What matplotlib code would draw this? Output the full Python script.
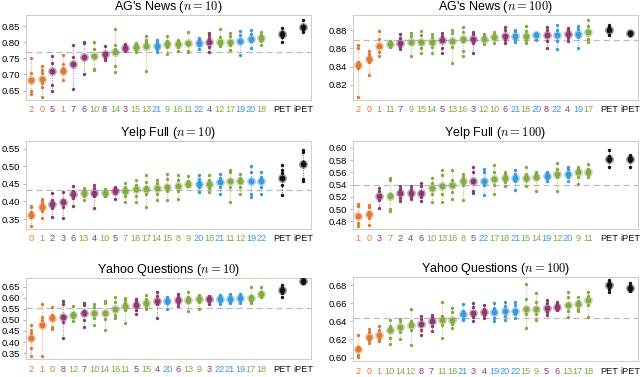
import matplotlib
matplotlib.use('Agg')
import matplotlib.pyplot as plt
import numpy as np

plt.rcParams['font.family'] = ['Liberation Sans', 'DejaVu Sans']
plt.rcParams['mathtext.fontset'] = 'cm'

ORANGE = '#e07a33'
PURPLE = '#8c3a6d'
GREEN = '#86a845'
BLUE = '#3a9ad9'
BLACK = '#111111'

# pattern groups per dataset: last index of orange, purple, green (rest blue)
ag_groups = [2, 8, 18]
yelp_groups = [1, 6, 18]
yahoo_groups = [2, 8, 18]

# ---------------- AG's News n=10 ----------------
ag10_labels = ['2', '0', '5', '1', '7', '6', '10', '8', '14', '3', '15', '13', '21', '9', '16', '11', '22', '4',
               '12', '17', '19', '20', '18', 'PET', 'iPET']
ag10_means = [0.683, 0.686, 0.711, 0.712, 0.732, 0.753, 0.758, 0.762, 0.769, 0.783, 0.786, 0.787, 0.787,
              0.793, 0.795, 0.796, 0.798, 0.799, 0.802, 0.802, 0.805, 0.809, 0.814, 0.824, 0.847]
ag10_runs = [
    [0.750, 0.705, 0.683, 0.648, 0.640], [0.727, 0.713, 0.705, 0.672, 0.660, 0.630],
    [0.756, 0.735, 0.711, 0.667, 0.649], [0.760, 0.733, 0.720, 0.682],
    [0.791, 0.753, 0.732, 0.655], [0.802, 0.797, 0.752, 0.700],
    [0.800, 0.778, 0.757, 0.718, 0.714], [0.787, 0.763, 0.750, 0.745],
    [0.840, 0.790, 0.778, 0.727, 0.709], [0.795, 0.789, 0.783, 0.772],
    [0.798, 0.793, 0.776, 0.770], [0.820, 0.807, 0.800, 0.787, 0.710],
    [0.806, 0.800, 0.780, 0.768], [0.818, 0.805, 0.785, 0.764],
    [0.807, 0.800, 0.785, 0.773], [0.832, 0.800, 0.774, 0.768],
    [0.814, 0.806, 0.790, 0.779], [0.828, 0.822, 0.812, 0.785, 0.769],
    [0.841, 0.815, 0.800, 0.788], [0.827, 0.818, 0.790, 0.776],
    [0.834, 0.823, 0.800, 0.760], [0.837, 0.825, 0.803, 0.783],
    [0.830, 0.822, 0.805, 0.790], [0.845, 0.830, 0.815, 0.802],
    [0.868, 0.850, 0.840, 0.832]]
ag10_base = 0.770

# ---------------- AG's News n=100 ----------------
ag100_labels = ['2', '0', '1', '11', '7', '9', '15', '14', '5', '13', '16', '3', '12', '10', '6', '21', '18',
                '20', '8', '22', '4', '19', '17', 'PET', 'iPET']
ag100_means = [0.842, 0.848, 0.863, 0.865, 0.866, 0.8675, 0.867, 0.8675, 0.869, 0.868, 0.870, 0.871, 0.871,
               0.873, 0.874, 0.874, 0.874, 0.875, 0.875, 0.875, 0.876, 0.876, 0.878, 0.881, 0.877]
ag100_runs = [
    [0.864, 0.860, 0.845, 0.838, 0.806], [0.857, 0.854, 0.850, 0.845, 0.831],
    [0.879, 0.871, 0.863, 0.856, 0.852], [0.868, 0.866, 0.864, 0.862],
    [0.876, 0.872, 0.866, 0.862, 0.859], [0.877, 0.874, 0.866, 0.852],
    [0.879, 0.875, 0.868, 0.860, 0.855], [0.876, 0.873, 0.866, 0.862, 0.855],
    [0.877, 0.874, 0.868, 0.860, 0.855], [0.881, 0.877, 0.868, 0.862, 0.844],
    [0.884, 0.878, 0.868, 0.857, 0.852], [0.878, 0.876, 0.871, 0.866, 0.855],
    [0.876, 0.874, 0.870, 0.865], [0.878, 0.875, 0.872, 0.866],
    [0.884, 0.881, 0.874, 0.869, 0.866], [0.881, 0.879, 0.874, 0.870, 0.867],
    [0.885, 0.879, 0.874, 0.869, 0.866], [0.877, 0.876, 0.874, 0.869],
    [0.884, 0.880, 0.876, 0.868, 0.860], [0.886, 0.881, 0.876, 0.868, 0.859],
    [0.883, 0.880, 0.876, 0.872, 0.868], [0.885, 0.882, 0.877, 0.873, 0.860],
    [0.892, 0.885, 0.878, 0.870, 0.867], [0.886, 0.884, 0.880, 0.875],
    [0.8785, 0.877, 0.876, 0.875]]
ag100_base = 0.869

# ---------------- Yelp Full n=10 ----------------
yelp10_labels = ['0', '1', '2', '3', '6', '13', '4', '10', '5', '7', '16', '17', '14', '15', '8', '9', '20',
                 '18', '21', '11', '12', '19', '22', 'PET', 'iPET']
yelp10_means = [0.362, 0.384, 0.394, 0.397, 0.420, 0.424, 0.425, 0.425, 0.429, 0.431, 0.436, 0.436, 0.438,
                0.440, 0.445, 0.450, 0.451, 0.451, 0.455, 0.457, 0.457, 0.459, 0.459, 0.468, 0.506]
yelp10_runs = [
    [0.388, 0.385, 0.370, 0.355, 0.331], [0.406, 0.400, 0.393, 0.372, 0.354],
    [0.425, 0.405, 0.388, 0.380, 0.355], [0.428, 0.405, 0.395, 0.383, 0.352],
    [0.445, 0.430, 0.420, 0.410, 0.388], [0.438, 0.433, 0.425, 0.415, 0.405],
    [0.446, 0.438, 0.425, 0.415, 0.381], [0.436, 0.430, 0.423, 0.415],
    [0.440, 0.435, 0.425, 0.406], [0.452, 0.440, 0.430, 0.415, 0.397],
    [0.460, 0.448, 0.432, 0.415, 0.397], [0.476, 0.455, 0.440, 0.420, 0.384],
    [0.462, 0.452, 0.440, 0.420, 0.403], [0.477, 0.465, 0.445, 0.430, 0.403],
    [0.474, 0.462, 0.445, 0.430, 0.406], [0.471, 0.457, 0.450, 0.443],
    [0.476, 0.465, 0.455, 0.440, 0.426], [0.474, 0.462, 0.450, 0.438, 0.426],
    [0.477, 0.468, 0.455, 0.440, 0.422], [0.490, 0.483, 0.460, 0.440, 0.398],
    [0.477, 0.468, 0.458, 0.440, 0.420], [0.502, 0.485, 0.460, 0.420, 0.413],
    [0.485, 0.470, 0.460, 0.440, 0.422], [0.505, 0.490, 0.480, 0.448, 0.417],
    [0.547, 0.540, 0.512, 0.465, 0.459]]
yelp10_base = 0.432

# ---------------- Yelp Full n=100 ----------------
yelp100_labels = ['1', '0', '3', '7', '2', '4', '6', '10', '13', '16', '8', '5', '22', '17', '18', '21', '15',
                  '14', '19', '12', '20', '9', '11', 'PET', 'iPET']
yelp100_means = [0.489, 0.492, 0.522, 0.522, 0.526, 0.526, 0.527, 0.534, 0.537, 0.539, 0.546, 0.546, 0.546,
                 0.549, 0.550, 0.551, 0.551, 0.553, 0.554, 0.557, 0.557, 0.560, 0.561, 0.582, 0.582]
yelp100_runs = [
    [0.508, 0.505, 0.490, 0.478, 0.472], [0.507, 0.503, 0.495, 0.485, 0.475],
    [0.535, 0.530, 0.522, 0.515, 0.502], [0.551, 0.548, 0.525, 0.500, 0.497],
    [0.538, 0.533, 0.525, 0.518, 0.513], [0.537, 0.533, 0.526, 0.520, 0.517],
    [0.542, 0.538, 0.528, 0.520, 0.513], [0.551, 0.542, 0.535, 0.525, 0.511],
    [0.564, 0.556, 0.540, 0.525, 0.512], [0.564, 0.548, 0.540, 0.528, 0.517],
    [0.558, 0.553, 0.548, 0.540, 0.515], [0.569, 0.560, 0.548, 0.530, 0.526],
    [0.566, 0.560, 0.548, 0.540, 0.523], [0.572, 0.560, 0.550, 0.540, 0.524],
    [0.561, 0.557, 0.550, 0.545, 0.538], [0.564, 0.558, 0.552, 0.546, 0.532],
    [0.569, 0.557, 0.552, 0.548, 0.537], [0.560, 0.558, 0.555, 0.550, 0.530],
    [0.561, 0.558, 0.554, 0.550, 0.546], [0.575, 0.565, 0.558, 0.552, 0.530],
    [0.569, 0.566, 0.558, 0.552, 0.546], [0.568, 0.565, 0.560, 0.552, 0.541],
    [0.574, 0.566, 0.562, 0.557, 0.553], [0.597, 0.586, 0.582, 0.578, 0.568],
    [0.588, 0.585, 0.582, 0.578, 0.568]]
yelp100_base = 0.539

# ---------------- Yahoo Questions n=10 ----------------
yahoo10_labels = ['2', '1', '0', '8', '12', '7', '10', '14', '16', '11', '5', '15', '4', '20', '6', '13', '9',
                  '3', '22', '21', '19', '17', '18', 'PET', 'iPET']
yahoo10_means = [0.416, 0.476, 0.510, 0.515, 0.521, 0.533, 0.533, 0.533, 0.548, 0.563, 0.566, 0.578, 0.583,
                 0.586, 0.590, 0.590, 0.593, 0.593, 0.593, 0.596, 0.598, 0.599, 0.619, 0.634, 0.676]
yahoo10_runs = [
    [0.477, 0.455, 0.440, 0.416, 0.372, 0.335], [0.573, 0.515, 0.500, 0.476, 0.335],
    [0.556, 0.520, 0.505, 0.470, 0.458], [0.583, 0.570, 0.510, 0.490, 0.420],
    [0.563, 0.530, 0.515, 0.496], [0.578, 0.565, 0.540, 0.500, 0.469],
    [0.571, 0.560, 0.530, 0.510, 0.478], [0.586, 0.575, 0.535, 0.505, 0.455],
    [0.604, 0.580, 0.550, 0.520, 0.508], [0.598, 0.590, 0.575, 0.545, 0.488],
    [0.593, 0.585, 0.570, 0.545, 0.526], [0.613, 0.595, 0.580, 0.560, 0.551],
    [0.626, 0.610, 0.590, 0.570, 0.508], [0.601, 0.595, 0.585, 0.578, 0.547],
    [0.619, 0.605, 0.590, 0.575, 0.563], [0.628, 0.605, 0.595, 0.580, 0.541],
    [0.611, 0.600, 0.595, 0.580, 0.551], [0.608, 0.600, 0.595, 0.585, 0.571],
    [0.611, 0.602, 0.593, 0.585, 0.571], [0.619, 0.605, 0.595, 0.585, 0.575],
    [0.619, 0.608, 0.598, 0.588, 0.575], [0.650, 0.610, 0.600, 0.585, 0.578],
    [0.650, 0.628, 0.620, 0.610, 0.601], [0.658, 0.645, 0.630, 0.620, 0.601],
    [0.683, 0.679, 0.675, 0.671, 0.668]]
yahoo10_base = 0.555

# ---------------- Yahoo Questions n=100 ----------------
yahoo100_labels = ['2', '0', '1', '10', '14', '12', '8', '7', '11', '16', '21', '3', '4', '19', '20', '22', '15',
                   '9', '5', '6', '13', '17', '18', 'PET', 'iPET']
yahoo100_means = [0.609, 0.623, 0.625, 0.630, 0.634, 0.636, 0.637, 0.640, 0.641, 0.642, 0.648, 0.649, 0.650,
                  0.650, 0.652, 0.652, 0.654, 0.654, 0.655, 0.656, 0.658, 0.659, 0.664, 0.680, 0.677]
yahoo100_runs = [
    [0.625, 0.612, 0.608, 0.603, 0.601], [0.632, 0.628, 0.623, 0.619, 0.616],
    [0.635, 0.630, 0.625, 0.621, 0.618], [0.641, 0.635, 0.630, 0.622, 0.615],
    [0.643, 0.640, 0.634, 0.628, 0.621], [0.654, 0.640, 0.636, 0.630, 0.614],
    [0.646, 0.643, 0.637, 0.630, 0.625], [0.647, 0.645, 0.640, 0.635, 0.629],
    [0.661, 0.646, 0.641, 0.636, 0.622], [0.655, 0.650, 0.642, 0.637, 0.633],
    [0.659, 0.652, 0.648, 0.643, 0.641], [0.660, 0.656, 0.649, 0.645, 0.640],
    [0.658, 0.654, 0.650, 0.647, 0.644], [0.660, 0.655, 0.650, 0.644, 0.640],
    [0.661, 0.657, 0.652, 0.646, 0.641], [0.661, 0.658, 0.652, 0.648, 0.644],
    [0.681, 0.665, 0.654, 0.648, 0.633], [0.671, 0.662, 0.654, 0.648, 0.641],
    [0.664, 0.660, 0.655, 0.650, 0.647], [0.661, 0.659, 0.656, 0.654, 0.653],
    [0.673, 0.667, 0.658, 0.652, 0.645], [0.667, 0.663, 0.659, 0.654, 0.651],
    [0.673, 0.668, 0.664, 0.658, 0.645], [0.686, 0.683, 0.680, 0.676, 0.672],
    [0.682, 0.679, 0.677, 0.675, 0.674]]
yahoo100_base = 0.644


def label_color(label, groups):
    if label in ('PET', 'iPET'):
        return BLACK
    i = int(label)
    if i <= groups[0]:
        return ORANGE
    if i <= groups[1]:
        return PURPLE
    if i <= groups[2]:
        return GREEN
    return BLUE


def draw_panel(ax, title, labels, means, runs, base, groups, yticks, ylim):
    xs = list(range(23)) + [24, 26]
    colors = [label_color(l, groups) for l in labels]
    ax.axhline(base, color='#bbbbbb', lw=0.9, ls=(0, (5, 3)), zorder=1)
    for x, m, r, c in zip(xs, means, runs, colors):
        ax.vlines(x, min(r), max(r), colors=c, lw=0.8, linestyles=(0, (1, 1.3)), alpha=0.6, zorder=2)
        ax.scatter([x] * len(r), r, s=6, color=c, lw=0, zorder=3)
        ax.scatter([x], [m], s=40, color=c, alpha=0.45, lw=0, zorder=4)
        ax.scatter([x], [m], s=17, color=c, lw=0, zorder=5)
    ax.set_xlim(-0.55, 26.75)
    ax.set_ylim(*ylim)
    ax.set_xticks(xs)
    ax.set_xticklabels(labels, fontsize=6.6)
    for t, c in zip(ax.get_xticklabels(), colors):
        t.set_color(c)
    ax.set_yticks(yticks)
    ax.set_yticklabels([f'{v:.2f}' for v in yticks], fontsize=6.8)
    ax.tick_params(axis='x', length=0, pad=4)
    ax.tick_params(axis='y', length=2, width=0.6, color='#aaaaaa', pad=2)
    for s in ax.spines.values():
        s.set_color('#cccccc')
        s.set_linewidth(0.7)
    ax.set_title(title, fontsize=9, pad=3)


fig = plt.figure(figsize=(6.4, 3.77), dpi=100)
L1, L2, W = 0.040, 0.551, 0.446
ax1 = fig.add_axes([L1, 0.735, W, 0.225])
ax2 = fig.add_axes([L2, 0.735, W, 0.225])
ax3 = fig.add_axes([L1, 0.393, W, 0.233])
ax4 = fig.add_axes([L2, 0.393, W, 0.233])
ax5 = fig.add_axes([L1, 0.047, W, 0.215])
ax6 = fig.add_axes([L2, 0.042, W, 0.223])

draw_panel(ax1, r"AG's News ($n = 10$)", ag10_labels, ag10_means, ag10_runs, ag10_base, ag_groups,
           [0.65, 0.70, 0.75, 0.80, 0.85], (0.621, 0.884))
draw_panel(ax2, r"AG's News ($n = 100$)", ag100_labels, ag100_means, ag100_runs, ag100_base, ag_groups,
           [0.82, 0.84, 0.86, 0.88], (0.803, 0.897))
draw_panel(ax3, r"Yelp Full ($n = 10$)", yelp10_labels, yelp10_means, yelp10_runs, yelp10_base, yelp_groups,
           [0.35, 0.40, 0.45, 0.50, 0.55], (0.322, 0.572))
draw_panel(ax4, r"Yelp Full ($n = 100$)", yelp100_labels, yelp100_means, yelp100_runs, yelp100_base,
           yelp_groups, [0.48, 0.50, 0.52, 0.54, 0.56, 0.58, 0.60], (0.468, 0.611))
draw_panel(ax5, r"Yahoo Questions ($n = 10$)", yahoo10_labels, yahoo10_means, yahoo10_runs, yahoo10_base,
           yahoo_groups, [0.35, 0.40, 0.45, 0.50, 0.55, 0.60, 0.65], (0.322, 0.688))
draw_panel(ax6, r"Yahoo Questions ($n = 100$)", yahoo100_labels, yahoo100_means, yahoo100_runs,
           yahoo100_base, yahoo_groups, [0.60, 0.62, 0.64, 0.66, 0.68], (0.596, 0.689))

fig.savefig('out.png', dpi=100)
